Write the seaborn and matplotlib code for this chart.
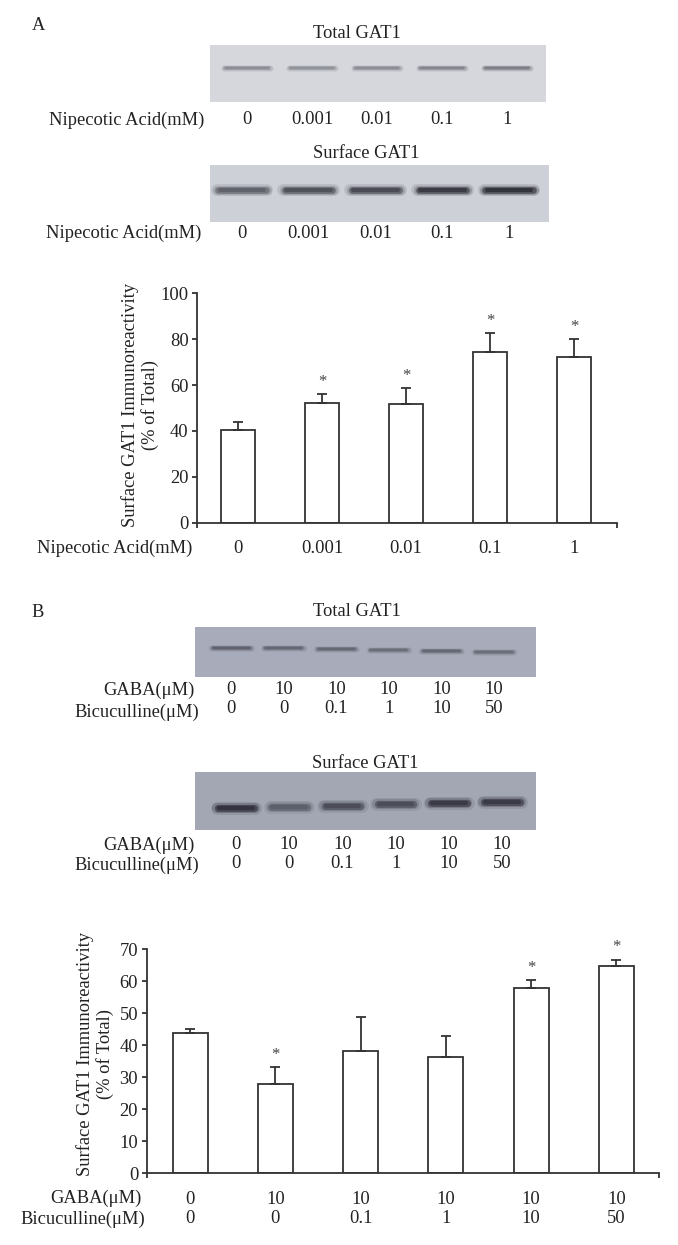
import numpy as np
import pandas as pd
import matplotlib
matplotlib.use("Agg")
import matplotlib.pyplot as plt
import seaborn as sns

sns.set_theme(style="ticks")
plt.rcParams['font.family'] = ['Liberation Serif', 'DejaVu Serif']

# ---------------- data ----------------
nip_labels = ["0", "0.001", "0.01", "0.1", "1"]
nip_mean = [40.3, 52.3, 51.7, 74.2, 72.3]
nip_err = [3.7, 3.7, 7.1, 8.6, 7.6]
nip_sig = [False, True, True, True, True]

gaba_labels = ["0", "10", "10", "10", "10", "10"]
bic_labels = ["0", "0", "0.1", "1", "10", "50"]
gb_mean = [43.8, 27.9, 38.3, 36.2, 57.7, 64.6]
gb_err = [1.2, 5.2, 10.6, 6.5, 2.7, 2.1]
gb_sig = [False, True, False, False, True, True]

# band intensities (0..1) of the western blots
blotA_total = [0.45, 0.42, 0.45, 0.50, 0.55]
blotA_surface = [0.70, 0.80, 0.85, 0.95, 1.00]
blotB_total = [0.60, 0.55, 0.55, 0.50, 0.55, 0.50]
blotB_surface = [0.95, 0.60, 0.75, 0.75, 0.90, 0.90]

# ---------------- layout ----------------
W, H = 678, 1245
fig = plt.figure(figsize=(W / 100, H / 100), dpi=100)
FS = 13.3
TXT = '#222222'
EDGE = '#333333'


def rect(x0, y0, x1, y1):
    return [x0 / W, 1 - y1 / H, (x1 - x0) / W, (y1 - y0) / H]


def ftext(x, y, s, **kw):
    kw.setdefault('fontsize', FS)
    kw.setdefault('color', TXT)
    fig.text(x / W, 1 - y / H, s, **kw)


def blot(box, xlim, vals, bg, band_y, band_lw, hw, labels, pad):
    ax = fig.add_axes(rect(*box))
    ax.set_facecolor(bg)
    for s in ax.spines.values():
        s.set_visible(False)
    ax.set_xlim(*xlim)
    ax.set_ylim(0, 1)
    dark = np.array([0.12, 0.12, 0.16])
    bgc = np.array(matplotlib.colors.to_rgb(bg))
    for i, v in enumerate(vals):
        c = bgc + (dark - bgc) * v
        yb = band_y[i] if np.ndim(band_y) else band_y
        for scale, a, lenf in ((1.8, 0.12, 1.0), (1.4, 0.22, 0.97),
                               (1.0, 0.55, 0.93), (0.6, 0.6, 0.88)):
            ax.plot([i - hw * lenf, i + hw * lenf], [yb, yb], lw=band_lw * scale,
                    color=c, alpha=a, solid_capstyle='round')
    ax.set_yticks([])
    ax.set_xticks(range(len(vals)))
    ax.set_xticklabels(labels, fontsize=FS, color=TXT, linespacing=1.15)
    ax.tick_params(axis='x', length=0, pad=pad)
    return ax


# ---- panel A blots ----
ftext(38, 26, "A", ha='center', va='center')
ftext(357, 33, "Total GAT1", ha='center', va='center')
blot((210, 45, 546, 102), (-0.57, 4.6), blotA_total, '#d5d7dd', 0.6, 2.6, 0.36,
     nip_labels, 6.5)
ftext(204, 120, "Nipecotic Acid(mM)", ha='right', va='center')

ftext(366, 153, "Surface GAT1", ha='center', va='center')
blot((210, 165, 549, 222), (-0.48, 4.6), blotA_surface, '#cdd0d6', 0.56, 4.8, 0.38,
     nip_labels, 2)
ftext(201, 233, "Nipecotic Acid(mM)", ha='right', va='center')


def bars(box, labels, mean, err, sig, xlim, ylim, yticks, width):
    ax = fig.add_axes(rect(*box))
    df = pd.DataFrame({'cond': [str(i) for i in range(len(mean))], 'value': mean})
    sns.barplot(data=df, x='cond', y='value', ax=ax, color='white',
                edgecolor=EDGE, linewidth=1.3, width=width, errorbar=None,
                saturation=1)
    xs = np.arange(len(mean))
    ax.errorbar(xs, mean, yerr=[np.zeros(len(err)), err], fmt='none',
                ecolor=EDGE, elinewidth=1.3, capsize=3.8, capthick=1.3)
    for x, m, e, s in zip(xs, mean, err, sig):
        if s:
            ax.annotate("*", xy=(x, m + e), xytext=(0, 3), textcoords='offset points',
                        ha='center', va='bottom', fontsize=12, color='#444444')
    ax.set_xlim(*xlim)
    ax.set_ylim(*ylim)
    ax.set_yticks(yticks)
    ax.set_xticks(xs)
    ax.set_xticklabels(labels, fontsize=FS, color=TXT, linespacing=1.15)
    ax.set_xticks(list(xlim), minor=True)
    ax.set_xlabel('')
    ax.set_ylabel('')
    sns.despine(ax=ax)
    for s in ('left', 'bottom'):
        ax.spines[s].set_color(EDGE)
        ax.spines[s].set_linewidth(1.3)
    ax.tick_params(axis='y', length=3.6, width=1.3, color=EDGE, pad=2.5,
                   labelsize=FS, labelcolor=TXT)
    ax.tick_params(axis='x', which='major', length=0, pad=12.5)
    ax.tick_params(axis='x', which='minor', length=3.6, width=1.3, color=EDGE)
    return ax


bars((197, 293.3, 617, 522.7), nip_labels, nip_mean, nip_err, nip_sig,
     (-0.49, 4.51), (0, 100), [0, 20, 40, 60, 80, 100], 0.4)
ftext(192, 548, "Nipecotic Acid(mM)", ha='right', va='center')
ftext(140, 405, "Surface GAT1 Immunoreactivity\n(% of Total)", rotation=90,
      ha='center', va='center', multialignment='center', linespacing=1.2)

# ---- panel B blots ----
gb_tick = [g + "\n" + b for g, b in zip(gaba_labels, bic_labels)]
ftext(38, 612, "B", ha='center', va='center')
ftext(357, 611, "Total GAT1", ha='center', va='center')
blot((195, 627, 536, 677), (-0.69, 5.8), blotB_total, '#a8acba',
     [0.58, 0.57, 0.56, 0.54, 0.52, 0.50], 2.6, 0.38, gb_tick, 3)
ftext(195, 690, "GABA(μM)", ha='right', va='center')
ftext(199, 712, "Bicuculline(μM)", ha='right', va='center')

ftext(365, 763, "Surface GAT1", ha='center', va='center')
blot((195, 772, 536, 830), (-0.77, 5.64), blotB_surface, '#a3a7b4',
     [0.38, 0.40, 0.42, 0.44, 0.46, 0.48], 5.2, 0.36, gb_tick, 4)
ftext(195, 845, "GABA(μM)", ha='right', va='center')
ftext(199, 865, "Bicuculline(μM)", ha='right', va='center')

bars((146.7, 949, 659, 1173.3), gb_tick, gb_mean, gb_err, gb_sig,
     (-0.51, 5.5), (0, 70), [0, 10, 20, 30, 40, 50, 60, 70], 0.41)
ftext(142, 1198, "GABA(μM)", ha='right', va='center')
ftext(145, 1219, "Bicuculline(μM)", ha='right', va='center')
ftext(95, 1054, "Surface GAT1 Immunoreactivity\n(% of Total)", rotation=90,
      ha='center', va='center', multialignment='center', linespacing=1.2)

fig.savefig("out.png", dpi=100)
